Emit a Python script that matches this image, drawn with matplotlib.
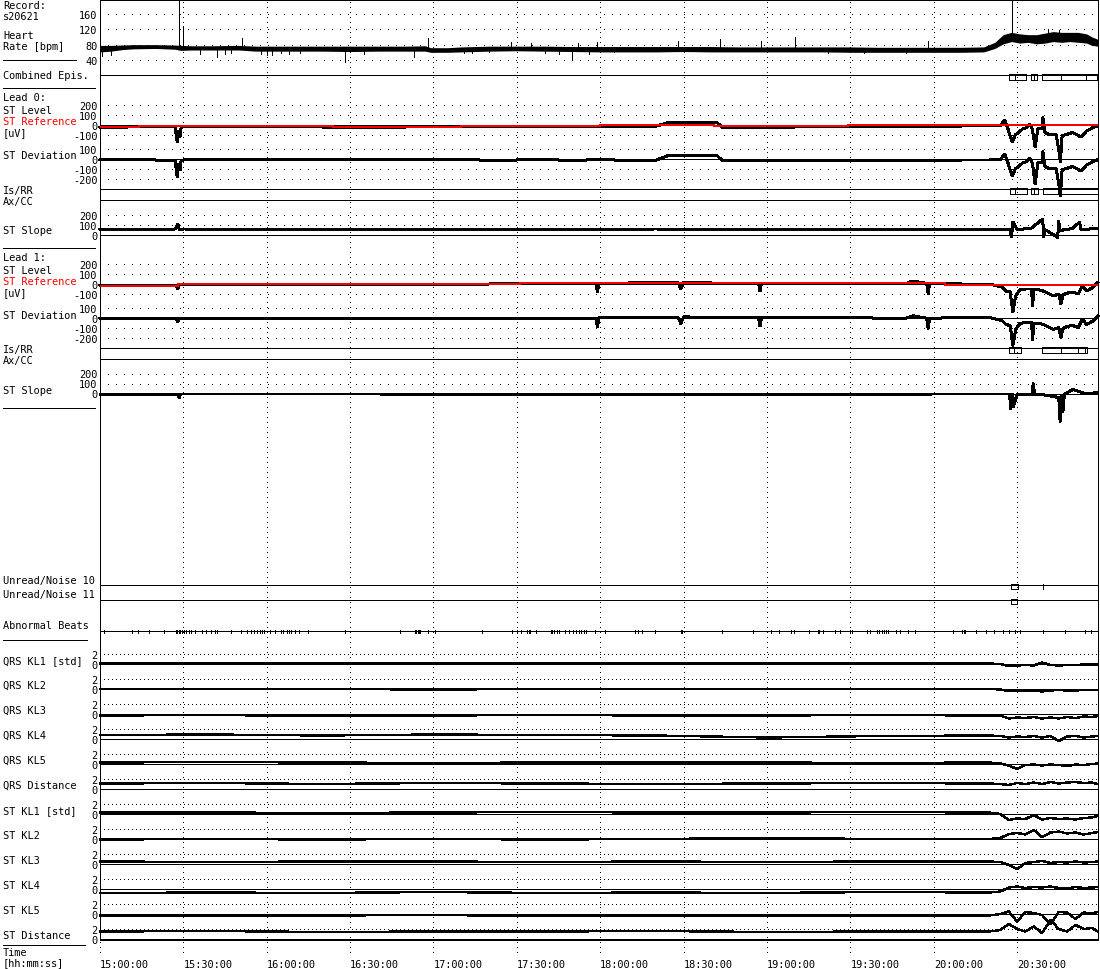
import matplotlib
matplotlib.use("Agg")
import matplotlib.pyplot as plt
from matplotlib.patches import Rectangle

# ── Layout (pixels of the 1100x970 picture) ────────────────────────────────
W, H = 1100, 970
X0, X1 = 100, 1098
PX_PER_MIN = 2.779
T_END = (X1 - X0) / PX_PER_MIN          # minutes after 15:00:00 shown

FS = 7.4
PX = 0.72                               # one pixel in points
plt.rcParams["font.family"] = ["DejaVu Sans Mono", "DejaVu Sans"]
plt.rcParams["font.size"] = FS
plt.rcParams["lines.scale_dashes"] = False
plt.rcParams["lines.antialiased"] = False
plt.rcParams["patch.antialiased"] = False

DOT_WIDE = (0, (PX, 7.3 * PX))
DOT_TIGHT = (0, (PX, 3.2 * PX))
DOT_V = (0, (PX, 5.0 * PX))

# ── Time axis ──────────────────────────────────────────────────────────────
grid_t = [0, 30, 60, 90, 120, 150, 180, 210, 240, 270, 300, 330]
grid_lbl = ["15:00:00", "15:30:00", "16:00:00", "16:30:00", "17:00:00", "17:30:00",
            "18:00:00", "18:30:00", "19:00:00", "19:30:00", "20:00:00", "20:30:00"]

# ── Heart rate [bpm] (band low/high + spikes) ──────────────────────────────
hr_t = [0, 4, 8, 12, 20, 27, 29, 33, 40, 50, 56, 62, 70, 80, 90, 100, 110, 117, 119, 125,
        130, 140, 150, 160, 170, 180, 190, 200, 210, 220, 230, 240, 250, 260, 270, 280,
        290, 300, 310, 318, 322, 325, 328, 331, 334, 337, 340, 343, 346, 349, 352, 355, 357, 359]
hr_lo = [61, 63, 67, 69, 70, 68, 65, 66, 66, 66, 63, 63, 63, 63, 62, 63, 63, 63, 60, 60,
         61, 63, 64, 63, 62, 61, 61, 61, 62, 61, 61, 61, 61, 61, 60, 60,
         60, 60, 60, 61, 70, 82, 88, 84, 86, 82, 84, 88, 86, 88, 86, 84, 78, 76]
hr_hi = [78, 78, 79, 80, 80, 79, 78, 77, 77, 78, 76, 76, 76, 76, 76, 76, 76, 77, 72, 72,
         74, 76, 76, 76, 75, 75, 75, 75, 75, 75, 74, 74, 74, 74, 74, 73,
         73, 73, 73, 74, 86, 106, 112, 108, 106, 106, 110, 114, 112, 112, 112, 108, 100, 94]
hr_spk_t = [0.6, 4, 28.5, 30.0, 36, 42, 45, 47, 51, 58, 60, 62, 65, 68, 72, 88, 95, 113, 118,
            131, 134, 140, 148, 155, 160, 165, 170, 172, 176, 179, 185, 208, 223, 238, 250,
            262, 275, 290, 298, 328.2, 341, 345]
hr_spk_from = [66, 66, 76, 72, 66, 66, 66, 66, 74, 66, 66, 66, 66, 66, 66, 66, 66, 66, 74,
               64, 64, 66, 72, 72, 66, 66, 66, 72, 66, 72, 64, 72, 72, 72, 72,
               64, 64, 64, 70, 108, 108, 108]
hr_spk_v = [50, 52, 200, 129, 56, 47, 55, 58, 97, 56, 54, 52, 57, 55, 58, 34, 55, 47, 97,
            58, 57, 60, 87, 85, 58, 56, 41, 84, 55, 87, 60, 90, 95, 90, 100,
            58, 58, 57, 90, 200, 120, 118]

# ── Combined episodes [min] ────────────────────────────────────────────────
comb_start = [327.2, 329.3, 335.0, 336.1, 339.0, 345.8, 354.8]
comb_end = [329.3, 333.2, 336.1, 337.2, 345.8, 354.8, 358.8]

# ── Lead 0 [uV] ────────────────────────────────────────────────────────────
l0_t = [0, 5, 10, 20, 27, 27.8, 28.2, 28.8, 29.2, 30, 40, 50, 60, 70, 80, 90, 100, 110,
        120, 130, 140, 150, 160, 170, 180, 190, 200, 204, 206, 215, 222, 224, 235, 245,
        255, 270, 290, 300, 310, 320, 324, 325.5, 326.4, 327.5, 328.3, 329.3, 330.5, 332,
        333.5, 334.5, 335.5, 336.5, 337.5, 339, 339.3, 340, 342, 344, 345, 345.6, 346.2,
        347, 350, 353, 355, 357, 359]
l0_level = [-28, -25, -20, -18, -20, -170, -60, -115, -25, -18, -15, -18, -20, -15, -20, -22,
            -25, -20, -18, -15, -20, -18, -15, -20, -15, -12, -12, 20, 25, 22, 25, -25, -28,
            -25, -15, -15, -12, -15, -10, -10, -8, 50, -10, -110, -170, -100, -75, -40, -25,
            10, -40, -220, -35, -30, 75, -75, -100, -90, -250, -370, -110, -100, -75, -120,
            -60, -30, -8]
l0_dev = [-5, -8, -5, -10, -12, -180, -50, -110, -15, -10, -6, -8, -10, -5, -8, -2, -5, -2,
          -5, -6, -12, -10, -8, -12, -8, -12, -12, 30, 35, 32, 35, -18, -20, -18, -10, -15,
          -12, -15, -10, -10, -8, 50, -10, -110, -170, -100, -75, -40, -25, 10, -40, -250,
          -35, -30, 75, -75, -100, -90, -250, -370, -110, -100, -75, -120, -60, -30, -8]
l0_ref_t = [0, 7, 14, 38, 84, 108, 130, 180, 221, 269, 359]
l0_ref = [-23, -17, -7, -10, -22, -15, -7, 0, -8, -2, -2]
l0_isrr_start = [327.5, 329.3, 335.0, 336.1, 339.3]
l0_isrr_end = [329.3, 333.5, 336.1, 337.4, 359.0]
l0_slope_t = [0, 27, 28, 28.6, 30, 100, 200, 300, 324, 327.5, 328, 328.5, 330, 335, 339.2,
              339.6, 340, 344.6, 345, 345.4, 350, 352.5, 353, 356, 359]
l0_slope = [50, 55, 100, 45, 55, 50, 55, 50, 50, 50, -25, 125, 50, 60, 155, -20, 50, -28,
            130, 40, 60, 125, 50, 55, 60]

# ── Lead 1 [uV] ────────────────────────────────────────────────────────────
l1_t = [0, 10, 20, 27.5, 28, 28.5, 40, 60, 80, 100, 120, 140, 160, 170, 178.5, 179, 179.5,
        190, 200, 208, 209, 210, 220, 237, 237.5, 238, 250, 270, 290, 292.5, 297.5, 298,
        298.5, 310, 320, 324.6, 326, 327.5, 328.5, 329.5, 331, 333, 335.2, 335.6, 336,
        337.5, 339.4, 341, 343, 345, 345.8, 346.5, 348, 350, 352, 353.5, 355, 357, 359]
l1_level = [-15, -10, -15, -15, -50, -10, -8, -5, -8, -5, -5, 0, 5, 5, 8, -80, 10, 10, 15,
            15, -50, 20, 10, 10, -70, 10, 10, 10, 5, 30, 5, -100, 5, 0, 0, -30, -70, -80,
            -280, -120, -60, -50, -50, -220, -60, -55, -70, -90, -120, -100, -200, -110,
            -90, -80, -100, -15, -70, -40, 15]
l1_dev = [-3, 0, -5, -3, -40, -8, -8, -5, -8, -5, -5, 0, -3, -3, 0, -90, 2, 2, 7, 7, -55,
          12, 2, 2, -80, 2, 2, 2, -3, 22, -3, -105, -3, 5, 5, -25, -65, -75, -275, -115,
          -55, -45, -45, -215, -55, -50, -65, -85, -115, -95, -195, -105, -85, -75, -95,
          -10, -65, -35, 20]
l1_ref_t = [0, 28, 151, 304, 359]
l1_ref = [-20, -3, 8, -5, -5]
l1_isrr_start = [327.2, 329.0, 339.0, 345.8, 351.9, 354.4]
l1_isrr_end = [329.0, 331.3, 345.8, 351.9, 354.4, 355.2]
l1_slope_t = [0, 28, 28.5, 29, 100, 200, 300, 324, 327.3, 327.7, 328.3, 328.7, 330, 335.4,
              335.8, 336.3, 340, 345, 345.5, 346, 346.5, 347, 350, 355, 359]
l1_slope = [-10, -10, -40, -5, -5, -10, -5, -5, -5, -150, -10, -130, -10, -10, 100, -10,
            -15, -40, -280, -20, -180, -10, 40, -5, 10]

# ── Unread / noise and abnormal beats [min] ────────────────────────────────
noise10_start = [327.8, 339.2]
noise10_end = [330.3, 339.3]
noise11_start = [327.8]
noise11_end = [330.1]
abn_t = [1.4, 11.4, 13.8, 17.7, 23.0, 27.3, 27.8, 28.3, 28.8, 29.4, 30.2, 30.9, 31.9, 32.6,
         34.2, 36.6, 38.1, 39.9, 41.4, 42.2, 47.0, 50.6, 52.8, 54.2, 55.4, 56.4, 57.6, 58.4,
         59.0, 61.2, 63.0, 65.1, 65.7, 67.2, 68.0, 68.7, 70.2, 71.6, 74.7, 88.2, 108.0,
         113.3, 113.8, 114.3, 114.8, 115.2, 118.1, 120.5, 137.4, 148.1, 150.1, 151.5, 153.6,
         154.2, 154.9, 157.0, 162.3, 162.8, 163.2, 164.3, 165.3, 167.3, 168.7, 170.1, 171.2,
         172.2, 173.1, 174.2, 174.9, 178.1, 181.8, 192.4, 193.5, 195.2, 199.7, 208.9, 209.3,
         209.6, 223.8, 234.8, 241.5, 244.5, 248.6, 249.7, 255.2, 258.2, 258.9, 260.3, 264.5,
         266.2, 269.9, 270.6, 276.1, 277.2, 279.6, 280.4, 281.5, 282.2, 282.9, 283.7, 286.4,
         287.9, 290.6, 293.1, 307.1, 310.2, 310.8, 311.3, 315.4, 318.8, 321.6, 325.0, 327.1,
         329.1, 331.2, 339.2, 347.1, 354.6, 356.7]

# ── QRS / ST Karhunen-Loeve coefficients [std] ─────────────────────────────
kl_t = [0, 40, 80, 120, 160, 200, 240, 280, 320, 324, 327, 330, 333, 336, 339, 342, 345,
        348, 351, 354, 357, 359]
qrs_kl1 = [0.1, 0.1, 0.1, 0.1, 0.1, 0.1, 0.1, 0.1, 0.1, 0.0, -0.4, -0.3, -0.2, -0.3, 0.3,
           -0.2, -0.3, -0.2, -0.2, -0.1, -0.1, -0.1]
qrs_kl2 = [0.0, 0.0, 0.0, -0.1, 0.0, 0.0, 0.0, 0.0, 0.0, -0.1, -0.4, -0.3, -0.4, -0.3, -0.5,
           -0.3, -0.2, -0.3, -0.3, -0.2, -0.2, -0.2]
qrs_kl3 = [-0.3, -0.2, -0.4, -0.3, -0.2, -0.3, -0.3, -0.2, -0.3, -0.3, -0.9, -0.7, -0.8,
           -0.6, -0.9, -0.7, -0.9, -0.6, -0.8, -0.5, -0.6, -0.4]
qrs_kl4 = [0.8, 0.9, 0.7, 0.9, 0.8, 0.7, 0.3, 0.6, 0.7, 0.6, 0.3, 0.5, 0.4, 0.6, 0.3, 0.6,
           -0.4, 0.5, 0.6, 0.3, 0.5, 0.6]
qrs_kl5 = [0.3, 0.4, 0.3, 0.2, 0.3, 0.3, 0.3, 0.2, 0.3, 0.1, -0.3, -1.0, -0.2, -0.1, -0.3,
           -0.1, -0.2, -0.4, -0.1, -0.2, 0.0, 0.1]
qrs_dist = [1.1, 1.2, 1.0, 1.2, 1.1, 1.0, 1.1, 1.2, 1.1, 1.0, 0.8, 1.2, 1.0, 1.3, 1.0, 1.4,
            1.1, 1.3, 1.4, 1.2, 1.3, 1.0]
st_kl1 = [0.3, 0.3, 0.2, 0.3, 0.4, 0.3, 0.3, 0.4, 0.3, 0.0, -1.2, -0.9, -1.0, -0.2, -1.1,
          -0.8, -1.0, -0.9, -1.1, -0.8, -0.7, -0.4]
st_kl2 = [-0.1, 0.0, -0.1, 0.0, -0.1, 0.0, 0.2, 0.0, 0.0, 0.2, 1.0, 1.2, 0.9, 1.8, 0.4, 1.3,
          1.5, 1.1, 1.3, 0.9, 1.2, 1.4]
st_kl3 = [0.5, 0.4, 0.5, 0.5, 0.4, 0.5, 0.4, 0.5, 0.5, 0.4, -0.2, -1.0, 0.2, 0.4, 0.6, 0.2,
          0.4, 0.3, 0.5, 0.3, 0.4, 0.5]
st_kl4 = [-0.8, -0.7, -0.8, -0.6, -0.8, -0.7, -0.8, -0.6, -0.7, -0.5, 0.3, 0.5, 0.2, 0.4,
          0.3, 0.5, 0.2, 0.1, 0.4, 0.2, 0.3, 0.4]
st_kl5 = [-0.3, -0.4, -0.3, -0.2, -0.4, -0.3, -0.3, -0.4, -0.3, 0.0, 0.5, -1.5, 0.4, 0.2,
          -0.2, -2.0, 0.4, 0.3, -1.0, 0.3, 0.1, 0.4]
st_dist = [1.5, 1.6, 1.4, 1.5, 1.5, 1.6, 1.4, 1.5, 1.5, 1.8, 3.0, 2.0, 1.5, 2.5, 1.2, 3.8,
           2.0, 1.5, 2.8, 2.0, 2.2, 1.5]

kl_rows = [("QRS KL1 [std]", qrs_kl1), ("QRS KL2", qrs_kl2), ("QRS KL3", qrs_kl3),
           ("QRS KL4", qrs_kl4), ("QRS KL5", qrs_kl5), ("QRS Distance", qrs_dist),
           ("ST KL1 [std]", st_kl1), ("ST KL2", st_kl2), ("ST KL3", st_kl3),
           ("ST KL4", st_kl4), ("ST KL5", st_kl5), ("ST Distance", st_dist)]


# ── Figure ─────────────────────────────────────────────────────────────────
fig = plt.figure(figsize=(W / 100, H / 100), dpi=100)
fig.patch.set_facecolor("white")

lay = fig.add_axes([0, 0, 1, 1])
lay.set_xlim(0, W)
lay.set_ylim(H, 0)
lay.axis("off")


def panel(top, bottom, zero=None, ppu=None, lim=(0, 1)):
    """Axes over a pixel band; time on x, value scale from zero row + px per unit."""
    ax = fig.add_axes([X0 / W, 1 - bottom / H, (X1 - X0) / W, (bottom - top) / H])
    ax.set_xlim(0, T_END)
    if zero is not None:
        ax.set_ylim((zero - bottom) / ppu, (zero - top) / ppu)
    else:
        ax.set_ylim(*lim)
    ax.patch.set_visible(False)
    for s in ax.spines.values():
        s.set_visible(False)
    ax.set_xticks([])
    ax.set_yticks([])
    ax.tick_params(length=0, pad=2, labelsize=FS)
    return ax


def scale(ax, ticks, solid_zero=True, dots=DOT_WIDE):
    ax.set_yticks(ticks, [str(v) for v in ticks])
    for v in ticks:
        if v == 0 and solid_zero:
            ax.axhline(0, color="k", lw=PX, zorder=1)
        else:
            ax.axhline(v, color="k", lw=PX, ls=dots, zorder=1)


def boxes(ax, starts, ends):
    for a, b in zip(starts, ends):
        ax.add_patch(Rectangle((a, 0), b - a, 1, fill=False, ec="k", lw=PX, clip_on=False))


def trace(ax, t, v, lw=2.0):
    ax.plot(t, v, color="k", lw=lw * PX, zorder=3, clip_on=False)


# vertical time grid + time labels
grid = panel(0, 958)
for t in grid_t:
    grid.axvline(t, color="k", lw=PX, ls=DOT_V)
grid.set_xticks(grid_t, grid_lbl)
grid.tick_params(axis="x", length=0, pad=1.5)
for lb in grid.get_xticklabels():
    lb.set_horizontalalignment("left")

# heart rate
hr = panel(0, 75, zero=76.3, ppu=0.3833)
scale(hr, [160, 120, 80, 40], solid_zero=False)
hr.fill_between(hr_t, hr_lo, hr_hi, color="k", lw=0, antialiased=False, zorder=3)
hr.vlines(hr_spk_t, hr_spk_from, hr_spk_v, color="k", lw=PX, zorder=3)

boxes(panel(75, 81), comb_start, comb_end)


def lead(top, t, level, dev, ref_t, ref, isrr_s, isrr_e, slope_t, slope):
    lv = panel(top, top + 55, zero=top + 38, ppu=0.1)
    scale(lv, [200, 100, 0, -100])
    trace(lv, t, level)
    lv.plot(ref_t, ref, drawstyle="steps-post", color="#ff0000", lw=2 * PX, zorder=4)
    dv = panel(top + 55, top + 101, zero=top + 72, ppu=0.1)
    scale(dv, [100, 0, -100, -200])
    trace(dv, t, dev)
    boxes(panel(top + 101, top + 107), isrr_s, isrr_e)
    sl = panel(top + 113, top + 150, zero=top + 147.5, ppu=0.1)
    scale(sl, [200, 100, 0])
    trace(sl, slope_t, slope)


lead(88, l0_t, l0_level, l0_dev, l0_ref_t, l0_ref, l0_isrr_start, l0_isrr_end,
     l0_slope_t, l0_slope)
lead(247, l1_t, l1_level, l1_dev, l1_ref_t, l1_ref, l1_isrr_start, l1_isrr_end,
     l1_slope_t, l1_slope)

boxes(panel(585, 590), noise10_start, noise10_end)
boxes(panel(600, 605), noise11_start, noise11_end)
panel(631, 635).vlines(abn_t, 0, 1, color="k", lw=PX)

for i, (name, vals) in enumerate(kl_rows):
    z = 665 + 25 * i
    ax = panel(z - 15, z + 10, zero=z, ppu=5.0)
    scale(ax, [2, 0], dots=DOT_TIGHT)
    trace(ax, kl_t, vals, lw=1.4)

# plot frame and full-width separators
lay.plot([X0, X1, X1, X0, X0], [0.5, 0.5, 940.5, 940.5, 0.5], color="k", lw=PX)
for y in [75.5, 189.5, 200.5, 348.5, 359.5, 585.5, 600.5, 631.5]:
    lay.plot([X0, X1], [y, y], color="k", lw=PX)

# left column separators
for y, x_end in [(60.5, 76), (88.5, 95), (248.5, 95), (408.5, 95), (640.5, 87), (945.5, 85)]:
    lay.plot([3, x_end], [y, y], color="k", lw=PX)

labels = [
    (6, "Record:", "k"), (17, "s20621", "k"), (36, "Heart", "k"), (47, "Rate [bpm]", "k"),
    (76, "Combined Epis.", "k"),
    (98, "Lead 0:", "k"), (111, "ST Level", "k"), (122, "ST Reference", "#ff0000"),
    (133, "[uV]", "k"), (156, "ST Deviation", "k"), (191, "Is/RR", "k"), (202, "Ax/CC", "k"),
    (231, "ST Slope", "k"),
    (258, "Lead 1:", "k"), (271, "ST Level", "k"), (282, "ST Reference", "#ff0000"),
    (293, "[uV]", "k"), (316, "ST Deviation", "k"), (350, "Is/RR", "k"), (361, "Ax/CC", "k"),
    (391, "ST Slope", "k"),
    (581, "Unread/Noise 10", "k"), (595, "Unread/Noise 11", "k"), (626, "Abnormal Beats", "k"),
    (953, "Time", "k"), (963, "[hh:mm:ss]", "k"),
]
for i, (name, _) in enumerate(kl_rows):
    labels.append((661 + 25 * i, name, "k"))
for y, s, c in labels:
    lay.text(3, y, s, color=c, ha="left", va="center", fontsize=FS)

fig.savefig("out.png", dpi=100)
